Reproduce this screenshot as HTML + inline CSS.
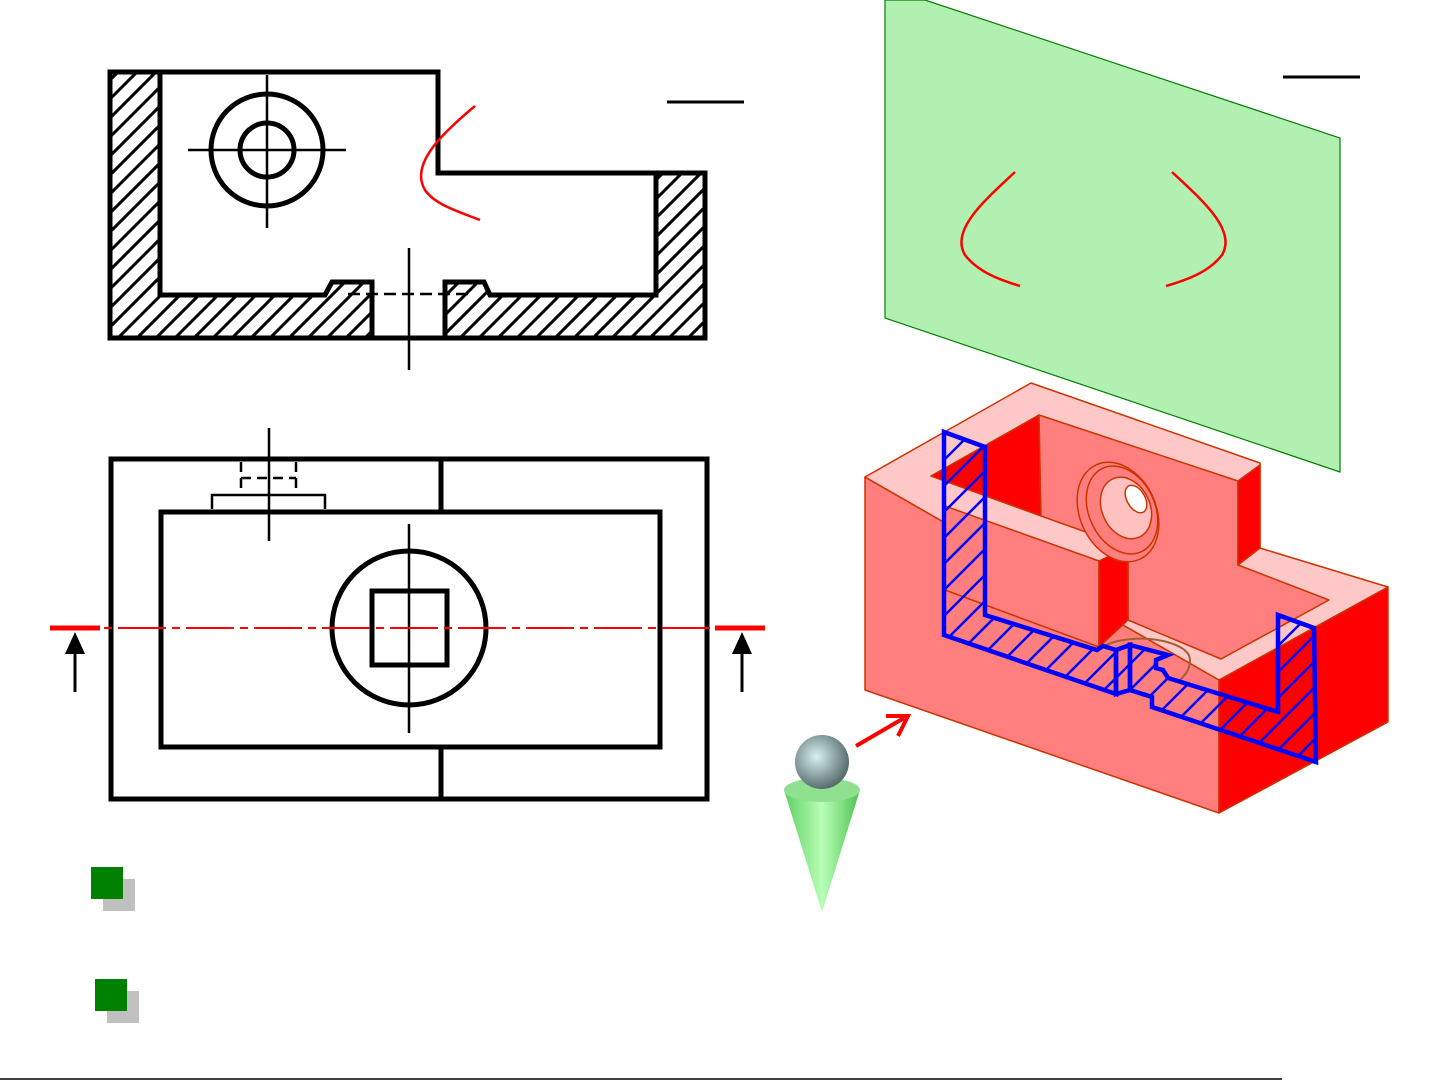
<!DOCTYPE html>
<html><head><meta charset="utf-8"><style>html,body{margin:0;padding:0;background:#fff}svg{display:block}</style></head>
<body>
<svg width="1441" height="1081" viewBox="0 0 1441 1081" xmlns="http://www.w3.org/2000/svg">
<defs>
<pattern id="hb" patternUnits="userSpaceOnUse" width="19" height="19"><path d="M-5,24 L24,-5" stroke="#000" stroke-width="3"/><path d="M-5,5 L5,-5 M14,24 L24,14" stroke="#000" stroke-width="3"/></pattern>
<pattern id="hblue" patternUnits="userSpaceOnUse" width="26" height="26"><path d="M-5,31 L31,-5 M-5,5 L5,-5 M21,31 L31,21" stroke="#0000ff" stroke-width="2.5"/></pattern>
<radialGradient id="sph" cx="0.4" cy="0.4" r="0.6"><stop offset="0" stop-color="#d8f0f0"/><stop offset="1" stop-color="#5a7070"/></radialGradient>
<linearGradient id="cone" x1="0" x2="1"><stop offset="0" stop-color="#5fcf5f"/><stop offset="0.5" stop-color="#b8ffb8"/><stop offset="1" stop-color="#50c050"/></linearGradient>
</defs>

<!-- top view -->
<g fill="url(#hb)" stroke="none">
<rect x="110" y="72" width="50" height="266"/>
<rect x="656" y="173" width="49" height="165"/>
<polygon points="160,295 325,295 332,282 372,282 372,338 160,338"/>
<polygon points="445,282 484,282 490,295 656,295 656,338 445,338"/>
</g>
<rect x="374" y="284" width="69" height="52" fill="#fff"/>
<g fill="none" stroke="#000" stroke-width="5" stroke-linejoin="miter">
<polygon points="110,72 438,72 438,173 705,173 705,338 110,338"/>
<polyline points="160,72 160,295 325,295 332,282 372,282 372,338"/>
<polyline points="656,173 656,295 490,295 484,282 445,282 445,338"/>
<circle cx="267" cy="150" r="56"/>
<circle cx="267" cy="150" r="27"/>
</g>
<g stroke="#000" stroke-width="2.5">
<line x1="188" y1="150" x2="346" y2="150"/><line x1="267" y1="75" x2="267" y2="228"/>
<line x1="409" y1="248" x2="409" y2="370"/>
<line x1="348" y1="294" x2="472" y2="294" stroke-dasharray="12,6"/>
<line x1="667" y1="102" x2="744" y2="102" stroke-width="3"/>
</g>
<path d="M475,106 C440,135 410,165 425,190 C435,205 460,212 480,220" fill="none" stroke="#f00" stroke-width="2.5"/>

<!-- front view -->
<g fill="none" stroke="#000" stroke-width="5">
<rect x="111" y="459" width="596" height="340"/>
<rect x="161" y="512" width="499" height="235"/>
<line x1="441" y1="459" x2="441" y2="512"/><line x1="441" y1="747" x2="441" y2="799"/>
<circle cx="409" cy="628" r="77"/>
<rect x="372" y="591" width="75" height="74"/>
</g>
<g stroke="#000" stroke-width="2.5" fill="none">
<line x1="409" y1="524" x2="409" y2="733"/>
<line x1="269" y1="428" x2="269" y2="541"/>
<polyline points="212,509 212,495 325,495 325,509"/>
<line x1="241" y1="462" x2="241" y2="495" stroke-dasharray="10,6"/>
<line x1="296" y1="462" x2="296" y2="495" stroke-dasharray="10,6"/>
<line x1="241" y1="478" x2="296" y2="478" stroke-dasharray="10,6"/>
</g>
<line x1="50" y1="628" x2="765" y2="628" stroke="#f00" stroke-width="2" stroke-dasharray="48,6,8,6"/>
<line x1="50" y1="628" x2="100" y2="628" stroke="#f00" stroke-width="5"/>
<line x1="715" y1="628" x2="765" y2="628" stroke="#f00" stroke-width="5"/>
<g stroke="#000" stroke-width="3"><line x1="75" y1="692" x2="75" y2="650"/><line x1="742" y1="692" x2="742" y2="650"/></g>
<polygon points="75,632 65,654 85,654" fill="#000"/>
<polygon points="742,632 732,654 752,654" fill="#000"/>

<!-- green squares -->
<rect x="103" y="879" width="32" height="32" fill="#c0c0c0"/><rect x="91" y="867" width="32" height="32" fill="#008000"/>
<rect x="107" y="991" width="32" height="32" fill="#c0c0c0"/><rect x="95" y="979" width="32" height="32" fill="#008000"/>
<line x1="0" y1="1079" x2="1282" y2="1079" stroke="#000" stroke-width="1.5"/>

<!-- plane -->
<polygon points="885,0 925,0 1340,138 1340,472 885,318" fill="#b2f0b2" stroke="#008000" stroke-width="1.2"/>
<line x1="1283" y1="77" x2="1360" y2="77" stroke="#000" stroke-width="3"/>
<path d="M1015,172 C985,200 950,230 965,255 C978,272 1000,280 1020,286" fill="none" stroke="#f00" stroke-width="2.5"/>
<path d="M1172,172 C1202,200 1237,230 1222,255 C1209,272 1187,280 1166,286" fill="none" stroke="#f00" stroke-width="2.5"/>

<!-- block -->
<g stroke="#cc3300" stroke-width="1.5" stroke-linejoin="round">
<polygon points="865,477 1219,680 1219,813 865,690" fill="#ff7f7f"/>
<polygon points="1219,680 1388,587 1388,722 1219,813" fill="#ff0000"/>
<polygon points="865,477 1031,383 1260,463 1260,548 1388,587 1219,680" fill="#ffc8c8"/>
<polygon points="931,476 1039,415 1041,516" fill="#ff0000"/>
<polygon points="1039,415 1238,481 1238,565 1329,600 1221,659 1128,620 1128,547 1041,516" fill="#ff7f7f"/>
<polygon points="1238,481 1260,465 1260,548 1238,565" fill="#ff0000"/>
<polygon points="945,506 1099,561 1099,647 945,590" fill="#ff7f7f"/>
<polygon points="1099,561 1128,547 1128,620 1099,647" fill="#ff0000"/>
<ellipse cx="1118" cy="512" rx="38" ry="52" transform="rotate(-25 1118 512)" fill="#ff7f7f"/>
<ellipse cx="1122" cy="510" rx="33" ry="46" transform="rotate(-25 1122 510)" fill="none"/>
<ellipse cx="1126" cy="508" rx="24" ry="32" transform="rotate(-25 1126 508)" fill="#ffc0c0"/>
<ellipse cx="1136" cy="499" rx="9" ry="15" transform="rotate(-30 1136 499)" fill="#fff"/>
</g>
<path d="M1100,648 C1130,630 1190,640 1190,660 C1190,670 1185,675 1180,680" fill="none" stroke="#a06030" stroke-width="2"/>
<g stroke="#0000ff" stroke-width="4.5" stroke-linejoin="miter" fill="url(#hblue)">
<polygon points="944,432 985,447 985,615 1097,650 1103,646 1116,650 1116,694 944,635"/>
<polygon points="1116,650 1130,645 1130,690 1116,694"/>
<polygon points="1130,645 1168,655 1156,660 1156,668 1163,670 1168,678 1278,712 1278,615 1314,628 1316,762 1152,707 1152,697 1130,690"/>
</g>

<!-- viewer -->
<line x1="856" y1="746" x2="904" y2="718" stroke="#f00" stroke-width="4"/>
<polyline points="886,716 908,716 898,736" fill="none" stroke="#f00" stroke-width="4"/>
<polygon points="784,790 860,790 822,912" fill="url(#cone)"/>
<ellipse cx="822" cy="790" rx="38" ry="12" fill="#8fe08f"/>
<circle cx="822" cy="762" r="27" fill="url(#sph)"/>
</svg>
</body></html>
